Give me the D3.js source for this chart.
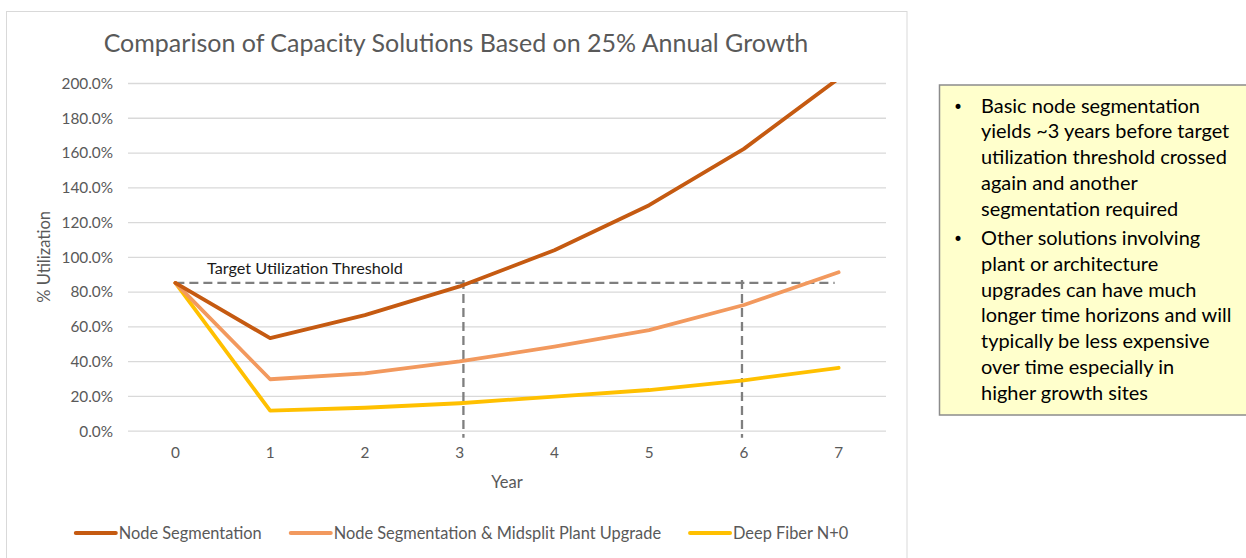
<!DOCTYPE html>
<html>
<head>
<meta charset="utf-8">
<script src="https://cdn.jsdelivr.net/npm/d3@7"></script>
<style>
  html, body { margin: 0; padding: 0; background: #ffffff; }
  svg { display: block; font-family: "Lato", "Open Sans", sans-serif; }
</style>
</head>
<body>
<svg id="chart" width="1246" height="558"></svg>
<script>
// ---- data ----
const years = [0, 1, 2, 3, 4, 5, 6, 7];
const nodeSegmentation = [0.85, 0.532, 0.665, 0.83, 1.038, 1.297, 1.621, 2.026];
const midsplitUpgrade  = [0.85, 0.296, 0.330, 0.399, 0.483, 0.579, 0.723, 0.911];
const deepFiber        = [0.85, 0.115, 0.132, 0.158, 0.196, 0.234, 0.290, 0.362];
const seriesNames = ["Node Segmentation", "Node Segmentation & Midsplit Plant Upgrade", "Deep Fiber N+0"];
const yTicks = [0, 0.2, 0.4, 0.6, 0.8, 1.0, 1.2, 1.4, 1.6, 1.8, 2.0];
const thresholdValue = 0.85;
const thresholdYears = [3.04, 5.98];
const titleText = "Comparison of Capacity Solutions Based on 25% Annual Growth";
const notes = [
  ["Basic node segmentation", "yields ~3 years before target", "utilization threshold crossed", "again and another", "segmentation required"],
  ["Other solutions involving", "plant or architecture", "upgrades can have much", "longer time horizons and will", "typically be less expensive", "over time especially in", "higher growth sites"]
];

// ---- layout ----
const svg = d3.select("#chart");
const plot = { left: 128, right: 886, top: 83, bottom: 430.7 };
const colors = ["#C55A11", "#F2995E", "#FFC000"];
const textGray = "#595959";

// helper: size a text so it spans a given width
function fitWidth(sel, target) {
  const w = sel.node().getComputedTextLength();
  const fs = parseFloat(sel.attr("font-size"));
  return fs * target / w;
}

// chart frame
svg.append("rect")
  .attr("x", 6.5).attr("y", 11.5).attr("width", 900.5).attr("height", 560)
  .attr("fill", "#ffffff").attr("stroke", "#d9d9d9").attr("stroke-width", 1);

const x = d3.scaleBand().domain(years).range([plot.left, plot.right]);
const xc = d => x(d) + x.bandwidth() / 2;
// continuous year position, for guides placed between categories
const xl = d3.scaleLinear().domain([years[0], years[years.length - 1]])
  .range([xc(years[0]), xc(years[years.length - 1])]);
const y = d3.scaleLinear().domain([0, 2]).range([plot.bottom, plot.top]);

// title
const title = svg.append("text")
  .attr("x", 456).attr("y", 52).attr("text-anchor", "middle")
  .attr("font-size", 24).attr("fill", textGray).text(titleText);
title.attr("font-size", fitWidth(title, 705));

// gridlines + y labels via axis
const yAxis = d3.axisLeft(y).tickValues(yTicks).tickFormat(d3.format(".1%"))
  .tickSize(-(plot.right - plot.left)).tickPadding(15);
const gy = svg.append("g").attr("transform", `translate(${plot.left},0)`).call(yAxis);
gy.select(".domain").remove();
gy.selectAll(".tick line").attr("stroke", "#d9d9d9").attr("stroke-width", 1.3);
gy.selectAll(".tick text").attr("fill", textGray).attr("font-family", "Lato, sans-serif")
  .attr("font-size", 14);
const yLblSize = fitWidth(gy.select(".tick:last-of-type text"), 51.5);
gy.selectAll(".tick text").attr("font-size", yLblSize).attr("dy", "0.35em");

// x labels via axis
const xAxis = d3.axisBottom(x).tickSize(0).tickPadding(0);
const gx = svg.append("g").attr("transform", `translate(0,${plot.bottom})`).call(xAxis);
gx.select(".domain").remove();
gx.selectAll(".tick text").attr("fill", textGray).attr("font-family", "Lato, sans-serif")
  .attr("font-size", yLblSize).attr("dy", 0).attr("y", 27);

// axis titles
svg.append("text")
  .attr("transform", `translate(50,${(plot.top + plot.bottom) / 2}) rotate(-90)`)
  .attr("text-anchor", "middle").attr("font-size", 16.5).attr("fill", textGray)
  .text("% Utilization");
svg.append("text")
  .attr("x", (plot.left + plot.right) / 2).attr("y", 488).attr("text-anchor", "middle")
  .attr("font-size", 16.5).attr("fill", textGray).text("Year");

// threshold guide lines
const dashGray = "#7f7f7f";
svg.append("line")
  .attr("x1", xc(years[0])).attr("x2", xc(years[years.length - 1]) - 4)
  .attr("y1", y(thresholdValue)).attr("y2", y(thresholdValue))
  .attr("stroke", dashGray).attr("stroke-width", 2.3).attr("stroke-dasharray", "9,5");
thresholdYears.forEach(yr => {
  svg.append("line")
    .attr("x1", xl(yr)).attr("x2", xl(yr))
    .attr("y1", y(thresholdValue) - 3).attr("y2", plot.bottom + 7)
    .attr("stroke", dashGray).attr("stroke-width", 2.3).attr("stroke-dasharray", "9,5");
});
const thr = svg.append("text")
  .attr("x", 207).attr("y", 274).attr("font-size", 15).attr("fill", "#1a1a1a")
  .text("Target Utilization Threshold");
thr.attr("font-size", fitWidth(thr, 196));

// series lines
svg.append("clipPath").attr("id", "plotClip").append("rect")
  .attr("x", plot.left - 10).attr("y", plot.top - 1)
  .attr("width", plot.right - plot.left + 20).attr("height", plot.bottom - plot.top + 20);
const line = d3.line().x((d, i) => xc(years[i])).y(d => y(d));
const allSeries = [nodeSegmentation, midsplitUpgrade, deepFiber];
const gLines = svg.append("g").attr("clip-path", "url(#plotClip)");
// draw yellow first so darker lines sit on top at the shared start point
[2, 1, 0].forEach(i => {
  gLines.append("path").datum(allSeries[i])
    .attr("d", line).attr("fill", "none").attr("stroke", colors[i])
    .attr("stroke-width", 3.8).attr("stroke-linejoin", "round").attr("stroke-linecap", "round");
});

// legend
const legend = svg.append("g");
const swatchW = 40, swatchPad = 3, itemGap = 29;
const items = seriesNames.map((name, i) => {
  const g = legend.append("g");
  g.append("line").attr("x1", 0).attr("x2", swatchW).attr("y1", 0).attr("y2", 0)
    .attr("stroke", colors[i]).attr("stroke-width", 4).attr("stroke-linecap", "round");
  const t = g.append("text").attr("x", swatchW + swatchPad).attr("dy", "0.35em")
    .attr("font-size", 15).attr("fill", textGray).text(name);
  return { g, t };
});
const legSize = fitWidth(items[0].t, 143);
items.forEach(it => it.t.attr("font-size", legSize));
const widths = items.map(it => swatchW + swatchPad + it.t.node().getComputedTextLength());
const total = d3.sum(widths) + itemGap * (items.length - 1);
let cx = 462 - total / 2;
items.forEach((it, i) => {
  it.g.attr("transform", `translate(${cx},533)`);
  cx += widths[i] + itemGap;
});

// notes box
svg.append("rect")
  .attr("x", 939.5).attr("y", 85).attr("width", 330).attr("height", 330)
  .attr("fill", "#FFFFCC").attr("stroke", "#8c8c8c").attr("stroke-width", 1.5);
const notesG = svg.append("g");
let lineY = 112.5;
const lineStep = 25.8, paraGap = 3.5;
let noteSize = null;
notes.forEach((para, p) => {
  notesG.append("text").attr("x", 953).attr("y", lineY).attr("font-size", 17)
    .attr("font-family", "'DejaVu Sans', sans-serif").attr("fill", "#000").text("•");
  para.forEach((ln, k) => {
    const t = notesG.append("text").attr("class", "note").attr("x", 981).attr("y", lineY)
      .attr("font-size", 18).attr("fill", "#000").text(ln);
    if (noteSize === null && ln === "utilization threshold crossed") noteSize = fitWidth(t, 246);
    lineY += lineStep;
  });
  lineY += paraGap;
});
if (noteSize) notesG.selectAll("text.note").attr("font-size", noteSize);
</script>
</body>
</html>
